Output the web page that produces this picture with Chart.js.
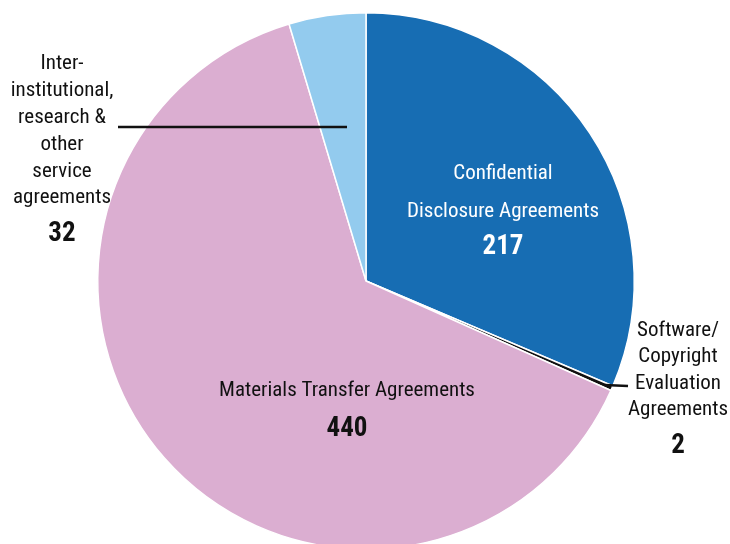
<!DOCTYPE html>
<html><head><meta charset="utf-8">
<script src="https://cdn.jsdelivr.net/npm/chart.js@4.4.0/dist/chart.umd.min.js"></script>
<style>
html,body{margin:0;padding:0;background:#fff;width:730px;height:544px;overflow:hidden;}
#wrap{position:relative;width:730px;height:560px;}
</style></head>
<body>
<div id="wrap"><canvas id="c" width="730" height="560"></canvas></div>
<script>
const categories = ["Confidential Disclosure Agreements", "Software/Copyright Evaluation Agreements", "Materials Transfer Agreements", "Inter-institutional, research & other service agreements"];
const values = [217, 2, 440, 32];
const colors = ["#176db3", "#111111", "#dbaed1", "#93cbee"];
const labelLines = [
  ["Confidential", "Disclosure Agreements"],
  ["Software/", "Copyright", "Evaluation", "Agreements"],
  ["Materials Transfer Agreements"],
  ["Inter-", "institutional,", "research &", "other", "service", "agreements"]
];

const FONT = '"Liberation Sans Narrow", "Arial Narrow", "Roboto Condensed", sans-serif';

const labelPlugin = {
  id: 'labels',
  afterDatasetsDraw(chart) {
    const ctx = chart.ctx;
    const meta = chart.getDatasetMeta(0);
    const a0 = meta.data[0];
    const cx = a0.x, cy = a0.y, r = a0.outerRadius;
    ctx.save();
    ctx.textAlign = 'center';
    ctx.textBaseline = 'middle';
    function block(lines, value, x, y, gaps, color) {
      ctx.fillStyle = color;
      ctx.font = '21px ' + FONT;
      lines.forEach((t, i) => ctx.fillText(t, x, y + gaps[i]));
      ctx.font = 'bold 27px ' + FONT;
      ctx.fillText(String(value), x, y + gaps[gaps.length - 1]);
    }
    // CDA
    block(labelLines[0], values[0], cx + 137, cy - 107, [0, 38, 73], '#ffffff');
    // MTA
    block(labelLines[2], values[2], cx - 19, cy + 110, [0, 38], '#111111');
    // Software
    block(labelLines[1], values[1], cx + 312, cy + 50, [0, 26, 53, 79, 115], '#111111');
    // Inter
    block(labelLines[3], values[3], cx - 304, cy - 217, [0, 27, 54, 81, 108, 134, 170], '#111111');
    // leader lines
    ctx.strokeStyle = '#111111';
    ctx.lineWidth = 2.5;
    ctx.beginPath();
    ctx.moveTo(cx - 248, cy - 154);
    ctx.lineTo(cx - 19, cy - 154);
    ctx.stroke();
    const a1 = meta.data[1];
    const mid = (a1.startAngle + a1.endAngle) / 2;
    ctx.beginPath();
    ctx.moveTo(cx + Math.cos(mid) * (r - 8), cy + Math.sin(mid) * (r - 8));
    ctx.lineTo(cx + 262, cy + 105);
    ctx.stroke();
    ctx.restore();
  }
};

new Chart(document.getElementById('c'), {
  type: 'pie',
  data: {
    labels: categories,
    datasets: [{
      data: values,
      backgroundColor: colors,
      borderColor: '#ffffff',
      borderWidth: 1.5
    }]
  },
  options: {
    responsive: false,
    animation: false,
    layout: { padding: { left: 97, right: 95, top: 12, bottom: 10 } },
    plugins: { legend: { display: false }, tooltip: { enabled: false } }
  },
  plugins: [labelPlugin]
});
</script>
</body></html>
